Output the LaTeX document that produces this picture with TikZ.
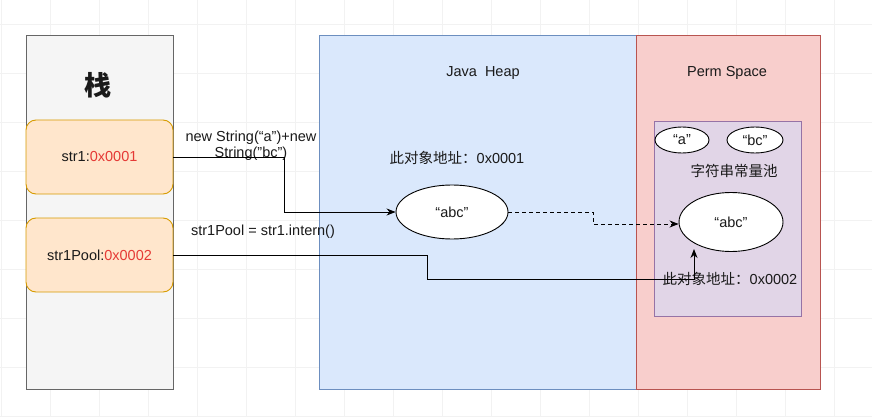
\documentclass[tikz,border=0pt]{standalone}
\usepackage{fontspec}
\setmainfont{Liberation Sans}
\newfontfamily\cjk{Noto Sans CJK SC}
\usetikzlibrary{arrows.meta,shapes.geometric}
\definecolor{stackfill}{HTML}{F5F5F5}
\definecolor{stackline}{HTML}{666666}
\definecolor{varfill}{HTML}{FFE6CC}
\definecolor{varline}{HTML}{D79B00}
\definecolor{heapfill}{HTML}{DAE8FC}
\definecolor{heapline}{HTML}{6C8EBF}
\definecolor{permfill}{HTML}{F8CECC}
\definecolor{permline}{HTML}{B85450}
\definecolor{poolfill}{HTML}{E1D5E7}
\definecolor{poolline}{HTML}{9673A6}
\definecolor{addr}{HTML}{E53935}
\definecolor{txt}{HTML}{1A1A1A}
\tikzset{
  region/.style={draw, line width=0.9pt, inner sep=0pt, anchor=north west},
  varbox/.style={draw=varline, fill=varfill, line width=0.9pt, rounded corners=10pt, minimum width=147pt, minimum height=74pt, inner sep=0pt, font=\fontsize{14.5}{16}\selectfont, text=txt},
  obj/.style={ellipse, draw=black, fill=white, line width=0.9pt, inner sep=0pt, font=\fontsize{14.5}{16}\selectfont, text=txt},
  lbl/.style={font=\fontsize{14.5}{16}\selectfont, text=txt, inner sep=0pt},
  cjklbl/.style={font=\cjk\fontsize{14.5}{16}\selectfont, text=txt, inner sep=0pt},
  conn/.style={draw=black, line width=0.9pt, -{Stealth[length=9pt,width=7pt]}},
}
\begin{document}
\begin{tikzpicture}[x=1pt,y=-1pt]
\useasboundingbox[fill=white] (0,0) rectangle (872,417);
% faint grid
\foreach \gx in {1,50,...,872} \draw[black!5, line width=0.5pt] (\gx,0) -- (\gx,417);
\foreach \gy in {24,73,...,417} \draw[black!5, line width=0.5pt] (0,\gy) -- (872,\gy);
% regions
\node[region, draw=stackline, fill=stackfill, minimum width=147pt, minimum height=354pt] (stack) at (26,35) {};
\node[region, draw=heapline, fill=heapfill, minimum width=317pt, minimum height=354pt] (heap) at (319,35) {};
\node[region, draw=permline, fill=permfill, minimum width=184pt, minimum height=354pt] (perm) at (636,35) {};
\node[region, draw=poolline, fill=poolfill, minimum width=147pt, minimum height=195pt] (pool) at (654,121) {};
% titles
\node[font=\cjk\fontsize{27}{30}\selectfont\bfseries, text=txt] (stacktitle) at (98,85) {栈};
\node[lbl] (heaptitle) at (483,73) {Java\ \ Heap};
\node[lbl] (permtitle) at (727,73) {Perm Space};
% variables
\node[varbox] (str1) at (99.5,157) {str1:\textcolor{addr}{0x0001}};
\node[varbox] (str1pool) at (99.5,255) {str1Pool:\textcolor{addr}{0x0002}};
% objects
\node[obj, minimum width=112pt, minimum height=54pt] (heapabc) at (452,212) {“abc"};
\node[cjklbl] (heapaddr) at (457,158) {此对象地址：\fontspec{Liberation Sans}0x0001};
\node[obj, minimum width=54pt, minimum height=26pt] (stra) at (682,140) {“a"};
\node[obj, minimum width=56pt, minimum height=26pt] (strbc) at (755,140) {“bc"};
\node[cjklbl] (pooltitle) at (734,171) {字符串常量池};
\node[obj, minimum width=104pt, minimum height=59pt] (permabc) at (731,222) {“abc"};
\node[cjklbl] (permaddr) at (730,279) {此对象地址：\fontspec{Liberation Sans}0x0002};
% connector labels
\node[lbl, align=center] (newlbl) at (251,146) {new String(“a")+new\\String("bc")};
\node[lbl] (internlbl) at (263,232) {str1Pool = str1.intern()};
% connectors
\coordinate (c1a) at (284,157);
\coordinate (c1b) at (284,212);
\draw[conn] (str1.east) -- (c1a) -- (c1b) -- (heapabc.west);
\coordinate (d1a) at (593,212);
\coordinate (d1b) at (593,224);
\draw[conn, dashed, dash pattern=on 4pt off 3pt] (heapabc.east) -- (d1a) -- (d1b) -- (permabc.west |- d1b);
\coordinate (c2a) at (427,255);
\coordinate (c2b) at (427,279);
\coordinate (c2c) at (694,279);
\coordinate (c2d) at (694,249);
\draw[conn] (str1pool.east) -- (c2a) -- (c2b) -- (c2c) -- (c2d);
\end{tikzpicture}
\end{document}
